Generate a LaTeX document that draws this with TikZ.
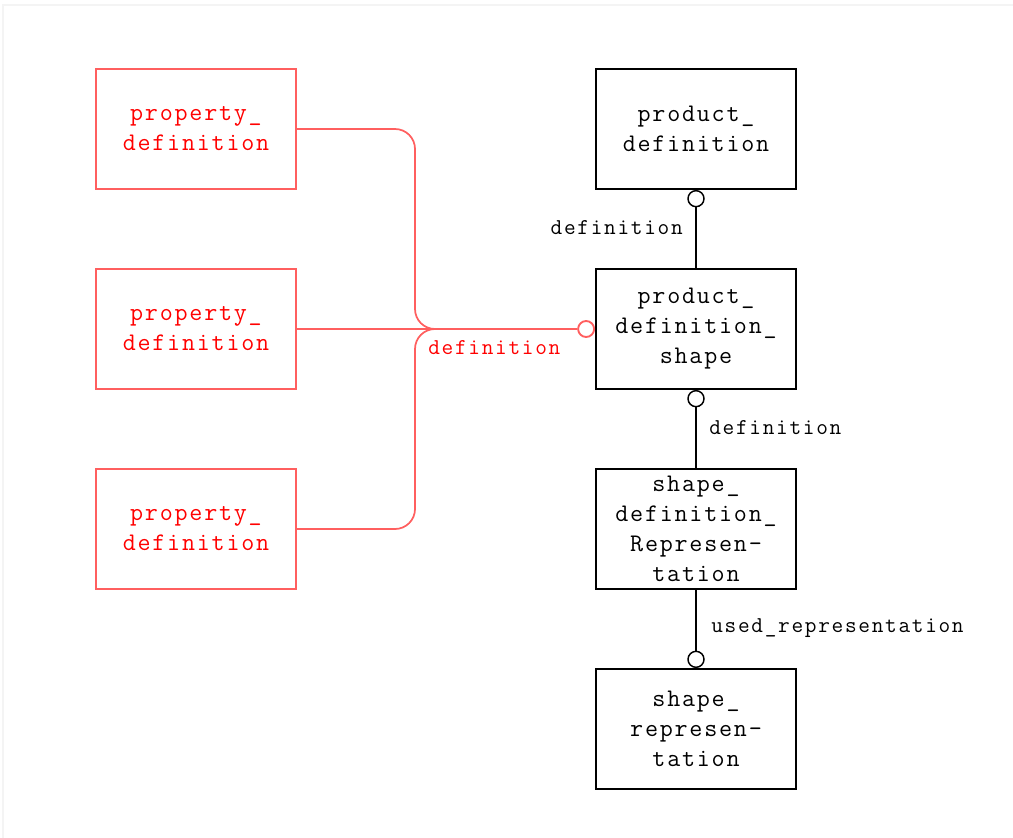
\documentclass[tikz,border=0pt]{standalone}
\usepackage{fontspec}
\newfontfamily\boxfont[LetterSpace=7]{Latin Modern Mono}
\newfontfamily\lblfont[LetterSpace=7.5]{Latin Modern Mono}
\definecolor{entred}{RGB}{255,0,0}
\definecolor{linkred}{RGB}{255,95,95}
\definecolor{framegray}{RGB}{244,244,244}
\tikzset{
  entity/.style={draw, line width=1.4pt, rectangle, minimum width=150pt, minimum height=90pt,
    inner sep=0pt, align=center, font=\boxfont\fontsize{19}{22.5}\selectfont},
  redentity/.style={entity, draw=linkred, line width=1.4pt, text=entred},
  ring/.style={draw, circle, fill=white, line width=1.1pt, minimum size=12pt, inner sep=0pt},
  redring/.style={ring, draw=linkred, line width=1.4pt, minimum size=12pt},
  link/.style={line width=1.4pt},
  redlink/.style={draw=linkred, line width=1.3pt, rounded corners=15pt},
  role/.style={font=\lblfont\fontsize{17}{18}\selectfont, inner sep=0pt},
}
\begin{document}
\begin{tikzpicture}[x=0.75pt, y=-0.75pt]
\useasboundingbox (0,0) rectangle (1013,838);
\draw[framegray, line width=1pt] (3,838) -- (3,5) -- (1013,5);

% supertype / subtype entities
\node[redentity] (p1) at (196,129) {property\_\\definition};
\node[redentity] (p2) at (196,329) {property\_\\definition};
\node[redentity] (p3) at (196,529) {property\_\\definition};

\node[entity] (pd)  at (696,129) {product\_\\definition};
\node[entity] (pds) at (696,329) {product\_\\definition\_\\shape};
\node[entity] (sdr) at (696,529) {shape\_\\definition\_\\Represen-\\tation};
\node[entity] (sr)  at (696,729) {shape\_\\represen-\\tation};

% relationship end markers
\node[ring, anchor=north] (o1) at (pd.south) {};
\node[ring, anchor=north] (o2) at (pds.south) {};
\node[ring, anchor=south] (o3) at (sr.north) {};
\node[redring, anchor=east] (o4) at (pds.west) {};

% black relationships
\draw[link] (o1) -- (pds);
\draw[link] (o2) -- (sdr);
\draw[link] (sdr) -- (o3);

% red select tree
\coordinate (trunk) at (415,329);
\draw[redlink] (p1.east) -| (trunk) -- (o4);
\draw[redlink] (p3.east) -| (trunk) -- (o4);
\draw[redlink] (p2.east) -- (o4);

% role labels
\node[role, anchor=east] (l1) at (683,228) {definition};
\node[role, anchor=west] (l2) at (709,428) {definition};
\node[role, anchor=west] (l3) at (711,628) {used\_representation};
\node[role, anchor=west, text=entred] (l4) at (428,348) {definition};
\end{tikzpicture}
\end{document}
